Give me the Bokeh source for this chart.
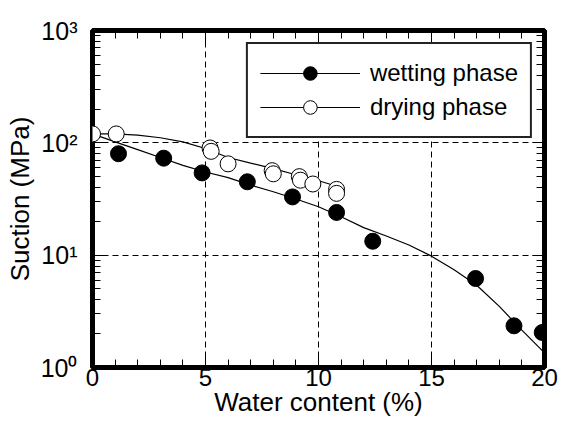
import math
from bokeh.plotting import figure
from bokeh.models import (Range1d, FixedTicker, LinearAxis, LogAxis,
                          Legend, LegendItem)
from bokeh.embed import file_html
from bokeh.resources import INLINE

# ---- data ----
wet_x = [1.15, 3.15, 4.85, 6.85, 8.85, 10.8, 12.4, 16.95, 18.65, 19.9]
wet_y = [80, 73, 54, 45, 33, 24, 13.3, 6.2, 2.35, 2.05]

dry_x = [0.0, 1.05, 5.2, 5.25, 6.0, 7.95, 8.0, 9.15, 9.2, 9.75, 10.8, 10.8]
dry_y = [120, 120, 90, 84, 65, 56.5, 53, 50, 46.5, 43, 38.5, 35.5]

wet_fit_x = [0, 1, 2, 3, 4, 5, 6, 7, 8, 9, 10, 11, 12, 13, 14, 15, 16, 17, 18, 19, 20]
wet_fit_y = [120, 102, 87, 74, 63, 55, 49, 42, 36.7, 31.6, 27, 22, 17.6, 14.8, 12.3,
             9.8, 7.4, 5.4, 3.5, 2.15, 1.35]

dry_fit_x = [0, 1, 2, 3, 4, 5, 6, 7, 8, 9, 10, 11]
dry_fit_y = [120, 120, 117, 111, 102, 89, 74, 66, 59, 52, 46, 40]

x_major = [0, 5, 10, 15, 20]
x_minor = list(range(0, 21))
y_exponents = [0, 1, 2, 3]
y_tick_labels = ["10\u2070", "10\u00b9", "10\u00b2", "10\u00b3"]

FONT = "Liberation Sans"

y_major = [10 ** e for e in y_exponents]
y_minor = [m * 10 ** e for e in y_exponents[:-1] for m in range(1, 10)] + [10 ** y_exponents[-1]]

p = figure(width=561, height=430, output_backend="svg", toolbar_location=None,
           x_range=Range1d(x_major[0], x_major[-1]),
           y_range=Range1d(y_major[0], y_major[-1]),
           y_axis_type="log",
           min_border_left=92, min_border_right=17, min_border_top=30, min_border_bottom=63)

p.outline_line_color = "black"
p.outline_line_width = 5
p.background_fill_color = "white"
p.border_fill_color = "white"

xt = FixedTicker(ticks=x_major, minor_ticks=x_minor)
yt = FixedTicker(ticks=y_major, minor_ticks=y_minor)

bx = p.below[0]
ly = p.left[0]

top_ax = LinearAxis(ticker=xt)
right_ax = LogAxis(ticker=yt)
p.add_layout(top_ax, "above")
p.add_layout(right_ax, "right")

bx.ticker = xt
ly.ticker = yt

for ax in [bx, ly, top_ax, right_ax]:
    ax.axis_line_color = None
    ax.major_tick_out = 0
    ax.minor_tick_out = 0
    ax.major_tick_in = 12
    ax.minor_tick_in = 8
    ax.major_tick_line_color = "black"
    ax.minor_tick_line_color = "black"
    ax.major_tick_line_width = 1
    ax.minor_tick_line_width = 1

for ax in [top_ax, right_ax]:
    ax.major_label_text_font_size = "1px"
    ax.major_label_text_color = None
    ax.major_label_standoff = 0

bx.major_label_text_font = FONT
bx.major_label_text_font_size = "24px"
bx.major_label_text_color = "black"
bx.major_label_standoff = 1
bx.axis_label = "Water content (%)"
bx.axis_label_text_font = FONT
bx.axis_label_text_font_size = "26px"
bx.axis_label_text_font_style = "normal"
bx.axis_label_text_color = "black"
bx.axis_label_standoff = -2

ly.major_label_overrides = {v: s for v, s in zip(y_major, y_tick_labels)}
ly.major_label_text_font = FONT
ly.major_label_text_font_size = "25px"
ly.major_label_text_color = "black"
ly.major_label_standoff = 15
ly.axis_label = "Suction (MPa)"
ly.axis_label_text_font = FONT
ly.axis_label_text_font_size = "26px"
ly.axis_label_text_font_style = "normal"
ly.axis_label_text_color = "black"
ly.axis_label_standoff = 3

for g in [p.xgrid[0], p.ygrid[0]]:
    g.grid_line_color = "black"
    g.grid_line_width = 1
    g.grid_line_dash = "6 4"

p.xgrid[0].ticker = xt
p.ygrid[0].ticker = yt

wl = p.line(wet_fit_x, wet_fit_y, line_color="black", line_width=1.2)
dl = p.line(dry_fit_x, dry_fit_y, line_color="black", line_width=1.2)
ws = p.scatter(wet_x, wet_y, size=16, marker="circle", fill_color="black", line_color="black")
ds = p.scatter(dry_x, dry_y, size=16, marker="circle", fill_color="white", line_color="black",
               line_width=1)

legend = Legend(items=[LegendItem(label="wetting phase", renderers=[wl, ws]),
                       LegendItem(label="drying phase", renderers=[dl, ds])],
                location="top_right", margin=12, padding=12, spacing=0,
                glyph_width=100, glyph_height=34, label_height=34, label_standoff=10,
                label_text_font=FONT, label_text_font_size="24px", label_text_color="black",
                border_line_color="#222222", border_line_width=2, border_line_alpha=1.0,
                background_fill_color="white", background_fill_alpha=1.0)
p.add_layout(legend)

open("out.html", "w").write(file_html(p, INLINE))
